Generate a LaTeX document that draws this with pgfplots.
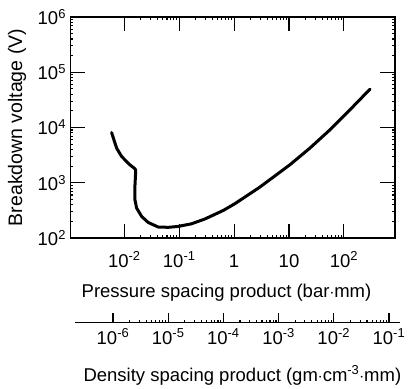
\documentclass[border=0pt]{standalone}
\usepackage{fontspec}
\setmainfont{Liberation Sans}
\usepackage{pgfplots}
\pgfplotsset{compat=1.18}
\newcommand{\fs}{\fontsize{18.5bp}{21bp}\selectfont}
\begin{document}
\begin{tikzpicture}
\begin{axis}[
  at={(70.5bp,149bp)}, anchor=south west,
  scale only axis, width=324.5bp, height=221bp,
  xmode=log, ymode=log, clip=false,
  xmin=1.047e-3, xmax=851, ymin=1e2, ymax=1e6,
  xtick={0.01,0.1,1,10,100},
  xticklabels={10\textsuperscript{-2},10\textsuperscript{-1},1,10,10\textsuperscript{2}},
  ytick={1e2,1e3,1e4,1e5,1e6},
  yticklabels={10\textsuperscript{2},10\textsuperscript{3},10\textsuperscript{4},10\textsuperscript{5},10\textsuperscript{6}},
  minor xtick={}, minor ytick={},
  tick align=inside, major tick length=14bp,
  tick style={black, line width=1.1pt},
  axis line style={line width=1.4pt},
  tick label style={font=\fs},
  xticklabel style={anchor=base, yshift=-29bp},
  yticklabel style={xshift=-1bp},
  xlabel={Pressure spacing product (bar$\cdot$mm)},
  xlabel style={font=\fs, anchor=base, at={(axis description cs:0.4807,-0.2715)}},
  ylabel={Breakdown voltage (V)},
  ylabel style={font=\fontsize{19.5bp}{22bp}\selectfont, anchor=center, at={(axis description cs:-0.1649,0.5)}},
]
\addplot[black, line width=3bp, line join=round, line cap=round] coordinates {
(0.00587,8120)
(0.00650,5900)
(0.00724,4240)
(0.00893,2990)
(0.01265,2110)
(0.01500,1850)
(0.01606,1718)
(0.01606,1496)
(0.01580,1100)
(0.0156,857)
(0.0156,493)
(0.01675,349)
(0.02065,246)
(0.0272,191)
(0.0414,158)
(0.0630,156)
(0.0959,162)
(0.168,181)
(0.294,221)
(0.633,315)
(1.03,417)
(2.95,836)
(10.4,2120)
(24.0,4240)
(55.6,9080)
(128.5,20900)
(298,49400)
};
\pgfplotsinvokeforeach{0.01,0.1,1,10,100}{
  \draw[black, line width=1.1pt] (axis cs:#1,100) -- (axis cs:#1,165);
  \draw[black, line width=1.1pt] (axis cs:#1,1000000) -- (axis cs:#1,632000);
}
\pgfplotsinvokeforeach{1000,10000,100000}{
  \draw[black, line width=1.1pt] (axis cs:0.001047,#1) -- (axis cs:0.001963,#1);
  \draw[black, line width=1.1pt] (axis cs:851,#1) -- (axis cs:454,#1);
}
\end{axis}
\begin{axis}[
  at={(75bp,64.5bp)}, anchor=south west,
  scale only axis, width=325bp, height=20bp,
  xmode=log, xmin=2.05e-7, xmax=0.1585, ymin=0, ymax=1, clip=false,
  hide y axis, axis x line*=bottom,
  xtick={1e-6,1e-5,1e-4,1e-3,1e-2,1e-1},
  xticklabels={10\textsuperscript{-6},10\textsuperscript{-5},10\textsuperscript{-4},10\textsuperscript{-3},10\textsuperscript{-2},10\textsuperscript{-1}},
  minor xtick={},
  xtick align=inside, major tick length=10bp,
  tick style={black, line width=1.1pt},
  axis line style={line width=1.4pt},
  tick label style={font=\fs},
  xticklabel style={anchor=base, yshift=-21.5bp},
  xlabel={Density spacing product (gm$\cdot$cm\textsuperscript{-3}$\cdot$mm)},
  xlabel style={font=\fs, anchor=base, at={(axis description cs:0.515,-2.925)}},
]
\addplot[draw=none] coordinates {(1e-6,0.5)};
\pgfplotsinvokeforeach{0.000001,0.00001,0.0001,0.001,0.01,0.1}{
  \draw[black, line width=1.1pt] (axis cs:#1,0) -- (axis cs:#1,0.5);
}
\end{axis}
\path[use as bounding box] (0,0) rectangle (409bp,387bp);
\end{tikzpicture}
\end{document}
